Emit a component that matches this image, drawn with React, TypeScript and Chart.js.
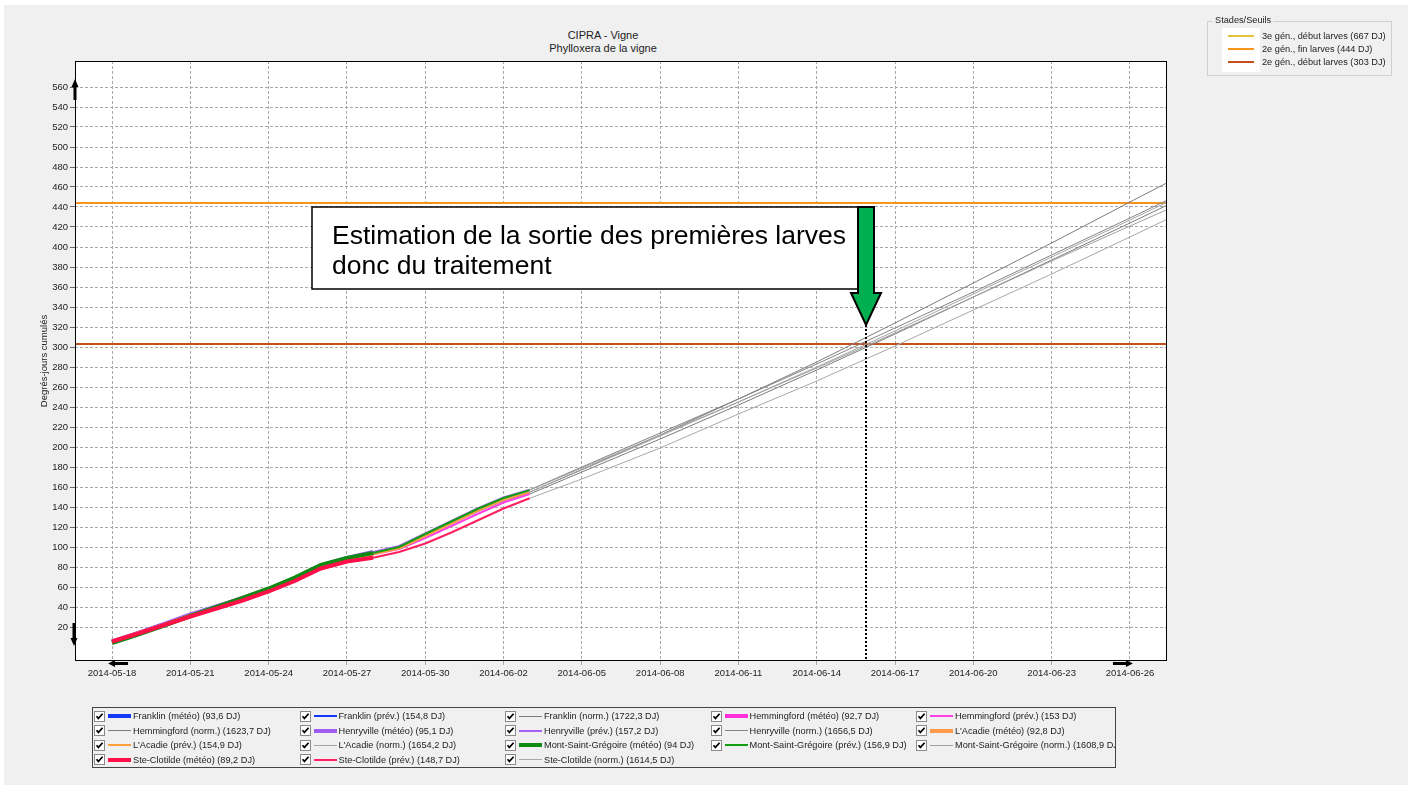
import React, { useEffect, useRef } from 'react';
import { Chart, registerables } from 'chart.js';

Chart.register(...registerables);

// ---------- data ----------
const START_UTC = Date.UTC(2014, 4, 18); // day 0 = 2014-05-18
const X_MIN = -1.42;
const X_MAX = 40.42;
const Y_MIN = -14;
const Y_MAX = 586;
const xTickDays = [0, 3, 6, 9, 12, 15, 18, 21, 24, 27, 30, 33, 36, 39];
const yTickValues = [20, 40, 60, 80, 100, 120, 140, 160, 180, 200, 220, 240, 260, 280, 300, 320, 340, 360, 380, 400, 420, 440, 460, 480, 500, 520, 540, 560];

const meteoDays = [0, 1, 2, 3, 4, 5, 6, 7, 8, 9, 10];
const prevDays = [10, 11, 12, 13, 14, 15, 16];
const normDays = [16, 18, 21, 24, 27, 30, 33, 36, 39, 41];

const stations = ['Franklin', 'Hemmingford', 'Henryville', "L'Acadie", 'Mont-Saint-Grégoire', 'Ste-Clotilde'];
const meteoTotals = ['93,6', '92,7', '95,1', '92,8', '94', '89,2'];
const prevTotals = ['154,8', '153', '157,2', '154,9', '156,9', '148,7'];
const normTotals = ['1722,3', '1623,7', '1656,5', '1654,2', '1608,9', '1614,5'];

const franklinMeteo = [5, 13.5, 22.5, 31.5, 40, 48.5, 57.5, 68.5, 81, 88, 93.6];
const hemmingfordMeteo = [5, 13.5, 22.5, 31.5, 39.5, 48, 57, 68, 80.5, 87.5, 92.7];
const henryvilleMeteo = [5.5, 14, 23, 32.5, 40.5, 49, 58, 69, 81.5, 89, 95.1];
const lacadieMeteo = [5, 13.5, 22, 31, 39.5, 48, 57, 68, 80.5, 87.5, 92.8];
const msgMeteo = [4, 12.5, 21.5, 31, 40, 49, 58.5, 69.5, 82, 89, 94];
const steClotildeMeteo = [5.5, 13.5, 22, 30.5, 38.5, 46.5, 55.5, 66, 78.5, 85.5, 89.2];

const franklinPrev = [93.6, 99.5, 111.5, 124, 136, 147, 154.8];
const hemmingfordPrev = [92.7, 98, 109, 121, 133, 144.5, 153];
const henryvillePrev = [95.1, 101, 113.5, 126, 138.5, 149.5, 157.2];
const lacadiePrev = [92.8, 98.5, 111, 123.5, 136, 147, 154.9];
const msgPrev = [94, 100, 113, 125.5, 138, 149, 156.9];
const steClotildePrev = [89.2, 95, 103.5, 114.5, 126.5, 138.5, 148.7];

const franklinNorm = [154.8, 177.5, 212, 248, 285, 324, 364, 404, 445, 472];
const hemmingfordNorm = [153, 175, 208, 242, 277, 313, 350, 387, 424, 449];
const henryvilleNorm = [157.2, 180, 214, 248, 283, 319, 355, 392, 429, 454];
const lacadieNorm = [154.9, 177, 211, 245, 280, 316, 353, 390, 427, 452];
const msgNorm = [156.9, 179, 212, 245, 279, 314, 350, 386, 421, 444];
const steClotildeNorm = [148.7, 168, 199, 233, 266, 301, 337, 373, 410, 435];

const meteoSeries = [franklinMeteo, hemmingfordMeteo, henryvilleMeteo, lacadieMeteo, msgMeteo, steClotildeMeteo];
const prevSeries = [franklinPrev, hemmingfordPrev, henryvillePrev, lacadiePrev, msgPrev, steClotildePrev];
const normSeries = [franklinNorm, hemmingfordNorm, henryvilleNorm, lacadieNorm, msgNorm, steClotildeNorm];

const meteoColors = ['#1438f5', '#ff30dc', '#a05cf0', '#ff9a48', '#118a11', '#ff1048'];
const prevColors = ['#1438f5', '#ff40e6', '#a860f5', '#ffa040', '#12a012', '#ff2060'];
const normColors = ['#7c7c7c', '#7c7c7c', '#848484', '#a4a4a4', '#a0a0a0', '#a8a8a8'];

const thresholdLabels = ['3e gén., début larves (667 DJ)', '2e gén., fin larves (444 DJ)', '2e gén., début larves (303 DJ)'];
const thresholdValues = [667, 444, 303];
const thresholdColors = ['#e6c13a', '#f7941d', '#c4501c'];

const ARROW_DAY = 28.87; // estimated treatment date (~2014-06-16)

const FONT = "'Liberation Sans', Arial, sans-serif";
const SMALL = 9.2;

const fmtDate = (d: number) => new Date(START_UTC + Math.round(d) * 86400000).toISOString().slice(0, 10);
const zip = (xs: number[], ys: number[]) => xs.map((x, i) => ({ x, y: ys[i] }));

type LegendItem = { label: string; color: string; width: number };

function buildDatasets() {
  const ds: any[] = [];
  const legend: LegendItem[] = [];
  stations.forEach((s, i) => {
    const n = stations.length;
    ds.push({ label: `${s} (météo) (${meteoTotals[i]} DJ)`, data: zip(meteoDays, meteoSeries[i]), borderColor: meteoColors[i], borderWidth: 4, order: n - i });
    legend.push({ label: `${s} (météo) (${meteoTotals[i]} DJ)`, color: meteoColors[i], width: 4 });
    ds.push({ label: `${s} (prév.) (${prevTotals[i]} DJ)`, data: zip(prevDays, prevSeries[i]), borderColor: prevColors[i], borderWidth: 2, order: 2 * n - i });
    legend.push({ label: `${s} (prév.) (${prevTotals[i]} DJ)`, color: prevColors[i], width: 2 });
    ds.push({ label: `${s} (norm.) (${normTotals[i]} DJ)`, data: zip(normDays, normSeries[i]), borderColor: normColors[i], borderWidth: 1, order: 3 * n - i });
    legend.push({ label: `${s} (norm.) (${normTotals[i]} DJ)`, color: normColors[i], width: 1 });
  });
  thresholdValues.forEach((v, i) => {
    ds.push({ label: thresholdLabels[i], data: [{ x: X_MIN - 5, y: v }, { x: X_MAX + 5, y: v }], borderColor: thresholdColors[i], borderWidth: 2, order: 100 + i });
  });
  ds.forEach((d) => {
    d.pointRadius = 0;
    d.pointHoverRadius = 0;
    d.fill = false;
    d.tension = 0;
  });
  return { ds, legend };
}

const overlayPlugin = {
  id: 'overlay',
  beforeDraw(chart: any) {
    const { ctx, chartArea: a } = chart;
    ctx.save();
    ctx.fillStyle = '#ffffff';
    ctx.fillRect(a.left, a.top, a.right - a.left, a.bottom - a.top);
    ctx.restore();
  },
  afterDraw(chart: any) {
    const { ctx, chartArea: a, scales } = chart;
    const xs = scales.x;
    ctx.save();
    // frame
    ctx.strokeStyle = '#000';
    ctx.lineWidth = 1;
    ctx.strokeRect(Math.round(a.left) + 0.5, Math.round(a.top) + 0.5, Math.round(a.right - a.left) - 1, Math.round(a.bottom - a.top) - 1);
    ctx.fillStyle = '#000';
    const L = Math.round(a.left);
    const B = Math.round(a.bottom);
    // up arrow (top of y axis)
    ctx.fillRect(L - 1.5, a.top + 25, 3, 14);
    ctx.beginPath();
    ctx.moveTo(L - 3.5, a.top + 26);
    ctx.lineTo(L + 3.5, a.top + 26);
    ctx.lineTo(L, a.top + 18);
    ctx.closePath();
    ctx.fill();
    // down arrow (bottom of y axis)
    ctx.fillRect(L - 2.5, B - 38, 3, 16);
    ctx.beginPath();
    ctx.moveTo(L - 4.5, B - 23);
    ctx.lineTo(L + 2.5, B - 23);
    ctx.lineTo(L - 1, B - 15);
    ctx.closePath();
    ctx.fill();
    // left arrow (x axis)
    const lx = xs.getPixelForValue(0);
    ctx.fillRect(lx + 2, B + 1, 14, 3);
    ctx.beginPath();
    ctx.moveTo(lx + 3, B - 1);
    ctx.lineTo(lx + 3, B + 6);
    ctx.lineTo(lx - 4, B + 2.5);
    ctx.closePath();
    ctx.fill();
    // right arrow (x axis)
    const rx = xs.getPixelForValue(39);
    ctx.fillRect(rx - 17, B + 1, 14, 3);
    ctx.beginPath();
    ctx.moveTo(rx - 4, B - 1);
    ctx.lineTo(rx - 4, B + 6);
    ctx.lineTo(rx + 3, B + 2.5);
    ctx.closePath();
    ctx.fill();

    // annotation
    const ax = Math.round(xs.getPixelForValue(ARROW_DAY));
    const tipY = 325;
    // dotted line
    ctx.strokeStyle = '#000';
    ctx.lineWidth = 2;
    ctx.setLineDash([2, 2]);
    ctx.beginPath();
    ctx.moveTo(ax, tipY);
    ctx.lineTo(ax, B);
    ctx.stroke();
    ctx.setLineDash([]);
    // text box
    const boxL = 312, boxT = 207, boxR = ax - 8, boxB = 289;
    ctx.fillStyle = '#fff';
    ctx.fillRect(boxL, boxT, boxR - boxL, boxB - boxT);
    ctx.lineWidth = 1.5;
    ctx.strokeStyle = '#000';
    ctx.strokeRect(boxL, boxT, boxR - boxL, boxB - boxT);
    ctx.fillStyle = '#000';
    ctx.font = `26.5px ${FONT}`;
    ctx.textBaseline = 'alphabetic';
    ctx.textAlign = 'left';
    ctx.fillText('Estimation de la sortie des premières larves', 332, 244);
    ctx.fillText('donc du traitement', 332, 274);
    // green arrow
    ctx.beginPath();
    ctx.moveTo(ax - 8, boxT);
    ctx.lineTo(ax + 8, boxT);
    ctx.lineTo(ax + 8, 293);
    ctx.lineTo(ax + 15, 293);
    ctx.lineTo(ax, tipY);
    ctx.lineTo(ax - 15, 293);
    ctx.lineTo(ax - 8, 293);
    ctx.closePath();
    ctx.fillStyle = '#00b050';
    ctx.fill();
    ctx.lineWidth = 2;
    ctx.strokeStyle = '#000';
    ctx.stroke();
    ctx.restore();
  },
};

function CheckBox() {
  return (
    <svg width={11} height={11} style={{ display: 'block' }}>
      <rect x={0.5} y={0.5} width={10} height={10} fill="#fff" stroke="#8a8a8a" />
      <path d="M2.5 5.2 L4.4 7.4 L8.6 2.8" fill="none" stroke="#000" strokeWidth={1.7} />
    </svg>
  );
}

export default function App() {
  const canvasRef = useRef<HTMLCanvasElement | null>(null);
  const { legend } = buildDatasets();

  useEffect(() => {
    if (!canvasRef.current) return;
    const { ds } = buildDatasets();
    const chart = new Chart(canvasRef.current, {
      type: 'line',
      data: { datasets: ds },
      options: {
        animation: false,
        responsive: false,
        devicePixelRatio: 1,
        layout: { padding: { left: 35, top: 61, right: 246, bottom: 103 } },
        plugins: { legend: { display: false }, title: { display: false }, tooltip: { enabled: false } },
        events: [],
        scales: {
          x: {
            type: 'linear',
            min: X_MIN,
            max: X_MAX,
            afterBuildTicks: (s: any) => {
              s.ticks = xTickDays.map((v) => ({ value: v }));
            },
            afterFit: (s: any) => {
              s.height = 24;
            },
            ticks: {
              autoSkip: false,
              maxRotation: 0,
              padding: 3,
              color: '#222',
              font: { family: FONT, size: 9.5 },
              callback: (v: any) => fmtDate(Number(v)),
            },
            grid: { color: '#a8a8a8', lineWidth: 1, drawTicks: true, tickLength: 4, tickColor: '#a8a8a8' },
            border: { display: false, dash: [3, 2] },
          },
          y: {
            type: 'linear',
            min: Y_MIN,
            max: Y_MAX,
            afterBuildTicks: (s: any) => {
              s.ticks = yTickValues.map((v) => ({ value: v }));
            },
            afterFit: (s: any) => {
              s.width = 40;
            },
            title: { display: true, text: 'Degrés-jours cumulés', color: '#222', font: { family: FONT, size: 9.5 }, padding: { top: 4, bottom: 0 } },
            ticks: { autoSkip: false, padding: 2, color: '#222', font: { family: FONT, size: 9.5 } },
            grid: { color: '#a8a8a8', lineWidth: 1, drawTicks: true, tickLength: 5, tickColor: '#666' },
            border: { display: false, dash: [3, 2] },
          },
        },
      },
      plugins: [overlayPlugin],
    } as any);
    return () => chart.destroy();
  }, []);

  const colW = 205.5;
  return (
    <div style={{ position: 'fixed', left: 0, top: 0, width: 1413, height: 788, background: '#fff', fontFamily: FONT, overflow: 'hidden' }}>
      <div style={{ position: 'absolute', left: 4, top: 5, width: 1404, height: 780, background: '#f0f0f0' }} />
      <div style={{ position: 'absolute', left: 453, width: 300, top: 29, textAlign: 'center', fontSize: 11, lineHeight: '13px', color: '#222' }}>
        <div>CIPRA - Vigne</div>
        <div>Phylloxera de la vigne</div>
      </div>
      <canvas ref={canvasRef} width={1413} height={788} style={{ position: 'absolute', left: 0, top: 0, width: 1413, height: 788 }} />

      {/* Stades/Seuils group box */}
      <div style={{ position: 'absolute', left: 1207, top: 21, width: 185, height: 55, border: '1px solid #d0d0d0', boxSizing: 'border-box' }} />
      <div style={{ position: 'absolute', left: 1213, top: 14, padding: '0 2px', background: '#f0f0f0', fontSize: SMALL, lineHeight: '12px', color: '#222' }}>Stades/Seuils</div>
      <div style={{ position: 'absolute', left: 1222, top: 28, width: 38, height: 44, background: '#fff' }} />
      {thresholdLabels.map((t, i) => (
        <div key={t} style={{ position: 'absolute', left: 1228, top: 30 + i * 13, height: 12, display: 'flex', alignItems: 'center', fontSize: SMALL, color: '#222', whiteSpace: 'nowrap' }}>
          <div style={{ width: 26, height: 2, background: thresholdColors[i], marginRight: 8 }} />
          <span>{t}</span>
        </div>
      ))}

      {/* bottom legend */}
      <div style={{ position: 'absolute', left: 92, top: 707, width: 1024, height: 61, border: '1px solid #444', boxSizing: 'border-box', overflow: 'hidden' }}>
        {legend.map((it, k) => {
          const col = k % 5;
          const row = Math.floor(k / 5);
          return (
            <div key={it.label} style={{ position: 'absolute', left: 1 + col * colW, top: 2 + row * 14.5, height: 12, display: 'flex', alignItems: 'center', fontSize: SMALL, color: '#222', whiteSpace: 'nowrap' }}>
              <CheckBox />
              <div style={{ width: 23, height: it.width, background: it.color, marginLeft: 3, marginRight: 2 }} />
              <span>{it.label}</span>
            </div>
          );
        })}
      </div>
    </div>
  );
}
